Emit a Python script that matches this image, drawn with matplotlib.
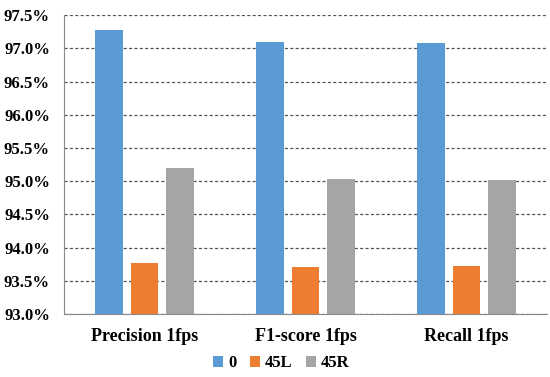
import numpy as np
import matplotlib.pyplot as plt
from matplotlib.ticker import FuncFormatter

categories = ["Precision 1fps", "F1-score 1fps", "Recall 1fps"]
series_names = ["0", "45L", "45R"]
vals_0 = [97.28, 97.10, 97.085]
vals_45L = [93.77, 93.71, 93.725]
vals_45R = [95.20, 95.035, 95.025]
colors = ["#5B9BD5", "#ED7D31", "#A5A5A5"]

plt.rcParams['font.family'] = ['Liberation Serif', 'DejaVu Serif']
plt.rcParams['font.weight'] = 'bold'

fig = plt.figure(figsize=(5.5, 3.77), dpi=100)
ax = fig.add_axes([0.116, 0.167, 0.879, 0.793])

x = np.arange(len(categories))
width = 0.171
step = 0.22
for i, (vals, name) in enumerate(zip([vals_0, vals_45L, vals_45R], series_names)):
    ax.bar(x + (i - 1) * step, vals, width, color=colors[i], label=name, zorder=3)

ax.set_xlim(-0.5, 2.5)
ax.set_ylim(93.0, 97.5)
ax.set_yticks(np.arange(93.0, 97.51, 0.5))
ax.yaxis.set_major_formatter(FuncFormatter(lambda v, p: f"{v:.1f}%"))
ax.set_xticks(x)
ax.set_xticklabels(categories, fontsize=13, fontweight='bold')
for lab in ax.get_yticklabels():
    lab.set_fontsize(12)
    lab.set_fontweight('bold')

ax.yaxis.grid(True, linestyle=(0, (2.5, 1.8)), color='#555555', linewidth=0.9, zorder=0)
ax.tick_params(axis='both', length=0)
ax.tick_params(axis='y', pad=10)
ax.tick_params(axis='x', pad=10)
for s in ['top', 'right']:
    ax.spines[s].set_visible(False)
ax.spines['left'].set_color('#888888')
ax.spines['bottom'].set_color('#888888')

ax.legend(loc='center', bbox_to_anchor=(0.45, -0.165), ncol=3, frameon=False,
          prop={'size': 12, 'weight': 'bold'}, handlelength=0.6, handleheight=0.6,
          handletextpad=0.3, columnspacing=0.8)

fig.savefig("out.png", dpi=100)
